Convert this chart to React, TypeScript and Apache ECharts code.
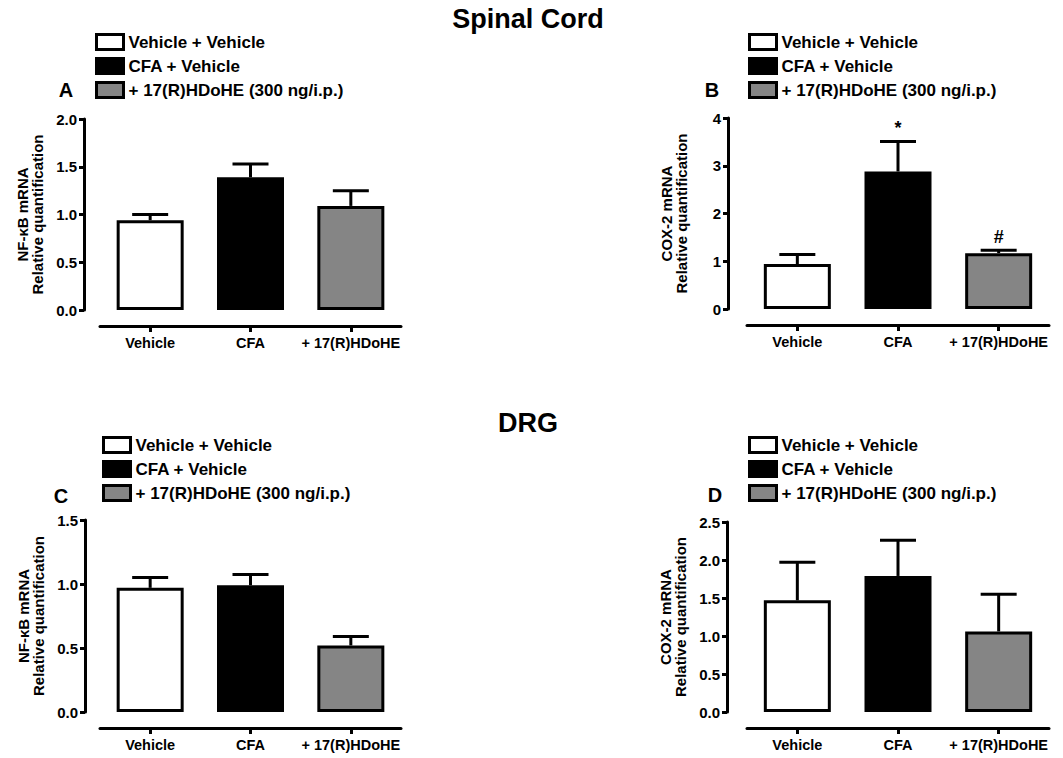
import React, { useEffect, useRef } from "react";
import * as echarts from "echarts";

const categories = ["Vehicle", "CFA", "+ 17(R)HDoHE"];
const legendNames = ["Vehicle + Vehicle", "CFA + Vehicle", "+ 17(R)HDoHE (300 ng/i.p.)"];
const barColors = ["#ffffff", "#000000", "#858585"];

// Panel A: Spinal cord NF-kB
const scNfkbMean = [0.94, 1.39, 1.09];
const scNfkbSem = [0.06, 0.14, 0.16];
// Panel B: Spinal cord COX-2
const scCox2Mean = [0.94, 2.88, 1.17];
const scCox2Sem = [0.2, 0.63, 0.06];
const scCox2Notes = ["", "*", "#"];
// Panel C: DRG NF-kB
const drgNfkbMean = [0.97, 0.99, 0.52];
const drgNfkbSem = [0.08, 0.085, 0.07];
// Panel D: DRG COX-2
const drgCox2Mean = [1.47, 1.79, 1.06];
const drgCox2Sem = [0.5, 0.47, 0.49];

const yMax = [2.0, 4, 1.5, 2.5];
const yInterval = [0.5, 1, 0.5, 0.5];
const yDecimals = [1, 0, 1, 1];
const yNames = [
  "NF-\u03baB mRNA\nRelative quantification",
  "COX-2 mRNA\nRelative quantification",
  "NF-\u03baB mRNA\nRelative quantification",
  "COX-2 mRNA\nRelative quantification",
];
const panelLetters = ["A", "B", "C", "D"];
const sectionTitles = ["Spinal Cord", "DRG"];

const FONT = "'Liberation Sans', Arial, Helvetica, sans-serif";

export default function App() {
  const ref = useRef<HTMLDivElement>(null);
  useEffect(() => {
    if (!ref.current) return;
    const chart = echarts.init(ref.current, null, { renderer: "svg" });

    const means = [scNfkbMean, scCox2Mean, drgNfkbMean, drgCox2Mean];
    const sems = [scNfkbSem, scCox2Sem, drgNfkbSem, drgCox2Sem];
    const notes = [["", "", ""], scCox2Notes, ["", "", ""], ["", "", ""]];

    const grids = [
      { left: 100, top: 119, width: 301, height: 191 },
      { left: 747, top: 118, width: 302, height: 191 },
      { left: 100, top: 520, width: 301, height: 192 },
      { left: 747, top: 522, width: 302, height: 190 },
    ];
    const yOffsets = [16, 19, 15, 20];
    const legendPos = [
      { left: 95, top: 33 },
      { left: 748, top: 33 },
      { left: 102, top: 436 },
      { left: 748, top: 436 },
    ];
    const letterPos = [
      [66, 90],
      [712, 90],
      [61, 496],
      [715, 495],
    ];

    const series: any[] = [];
    for (let p = 0; p < 4; p++) {
      for (let i = 0; i < 3; i++) {
        series.push({
          type: "bar",
          name: legendNames[i],
          xAxisIndex: p,
          yAxisIndex: p,
          barWidth: 67,
          barGap: "-100%",
          data: categories.map((_, j) => (j === i ? means[p][j] : "-")),
          itemStyle: { color: barColors[i], borderColor: "#000", borderWidth: 3 },
          z: 3,
        });
      }
      const m = means[p];
      const s = sems[p];
      const n = notes[p];
      series.push({
        type: "custom",
        xAxisIndex: p,
        yAxisIndex: p,
        z: 2,
        data: categories.map((_, j) => [j, m[j], m[j] + s[j]]),
        encode: { x: 0, y: 2 },
        renderItem: (params: any, api: any) => {
          const idx = api.value(0);
          const base = api.coord([idx, api.value(1)]);
          const top = api.coord([idx, api.value(2)]);
          const half = 18;
          const style = { stroke: "#000", lineWidth: 3 };
          const children: any[] = [
            { type: "line", shape: { x1: base[0], y1: base[1], x2: top[0], y2: top[1] }, style },
            { type: "line", shape: { x1: top[0] - half, y1: top[1], x2: top[0] + half, y2: top[1] }, style },
          ];
          const note = n[params.dataIndex];
          if (note) {
            children.push({
              type: "text",
              x: top[0],
              y: top[1] - 4,
              style: {
                text: note,
                fill: "#000",
                font: `bold 18px ${FONT}`,
                textAlign: "center",
                textVerticalAlign: "bottom",
              },
            });
          }
          return { type: "group", children };
        },
      });
    }

    const option: any = {
      animation: false,
      backgroundColor: "#fff",
      textStyle: { fontFamily: FONT },
      grid: grids.map((g) => ({ ...g, containLabel: false })),
      xAxis: grids.map((_, p) => ({
        type: "category",
        gridIndex: p,
        data: categories,
        offset: 16,
        axisLine: { show: true, onZero: false, lineStyle: { color: "#000", width: 3 } },
        axisTick: { show: true, alignWithLabel: true, length: 6, lineStyle: { color: "#000", width: 3 } },
        axisLabel: { interval: 0, color: "#000", fontWeight: "bold", fontSize: 14.5, margin: 9, fontFamily: FONT },
        splitLine: { show: false },
      })),
      yAxis: grids.map((_, p) => ({
        type: "value",
        gridIndex: p,
        min: 0,
        max: yMax[p],
        interval: yInterval[p],
        offset: yOffsets[p],
        name: yNames[p],
        nameLocation: "middle",
        nameRotate: 90,
        nameGap: 39,
        nameTextStyle: { color: "#000", fontWeight: "bold", fontSize: 15, lineHeight: 15, fontFamily: FONT, align: "center" },
        axisLine: { show: true, lineStyle: { color: "#000", width: 3 } },
        axisTick: { show: true, length: 5, lineStyle: { color: "#000", width: 3 } },
        axisLabel: {
          color: "#000",
          fontWeight: "bold",
          fontSize: 15,
          margin: 7,
          fontFamily: FONT,
          formatter: (v: number) => v.toFixed(yDecimals[p]),
        },
        splitLine: { show: false },
      })),
      legend: legendPos.map((pos) => ({
        ...pos,
        padding: 0,
        orient: "vertical",
        data: legendNames,
        icon: "rect",
        itemWidth: 27,
        itemHeight: 15,
        itemGap: 6,
        selectedMode: false,
        itemStyle: { borderColor: "#000", borderWidth: 3 },
        textStyle: { color: "#000", fontWeight: "bold", fontSize: 17, fontFamily: FONT },
      })),
      graphic: [
        {
          type: "text",
          x: 528,
          y: 19,
          style: { text: sectionTitles[0], font: `bold 27px ${FONT}`, fill: "#000", textAlign: "center", textVerticalAlign: "middle" },
        },
        {
          type: "text",
          x: 528,
          y: 423,
          style: { text: sectionTitles[1], font: `bold 27px ${FONT}`, fill: "#000", textAlign: "center", textVerticalAlign: "middle" },
        },
        ...panelLetters.map((l, p) => ({
          type: "text",
          x: letterPos[p][0],
          y: letterPos[p][1],
          style: { text: l, font: `bold 20px ${FONT}`, fill: "#000", textAlign: "center", textVerticalAlign: "middle" },
        })),
      ],
      series,
    };
    chart.setOption(option);
    return () => chart.dispose();
  }, []);
  return (
    <div
      ref={ref}
      style={{ position: "absolute", left: 0, top: 0, width: 1063, height: 758, background: "#fff" }}
    />
  );
}
